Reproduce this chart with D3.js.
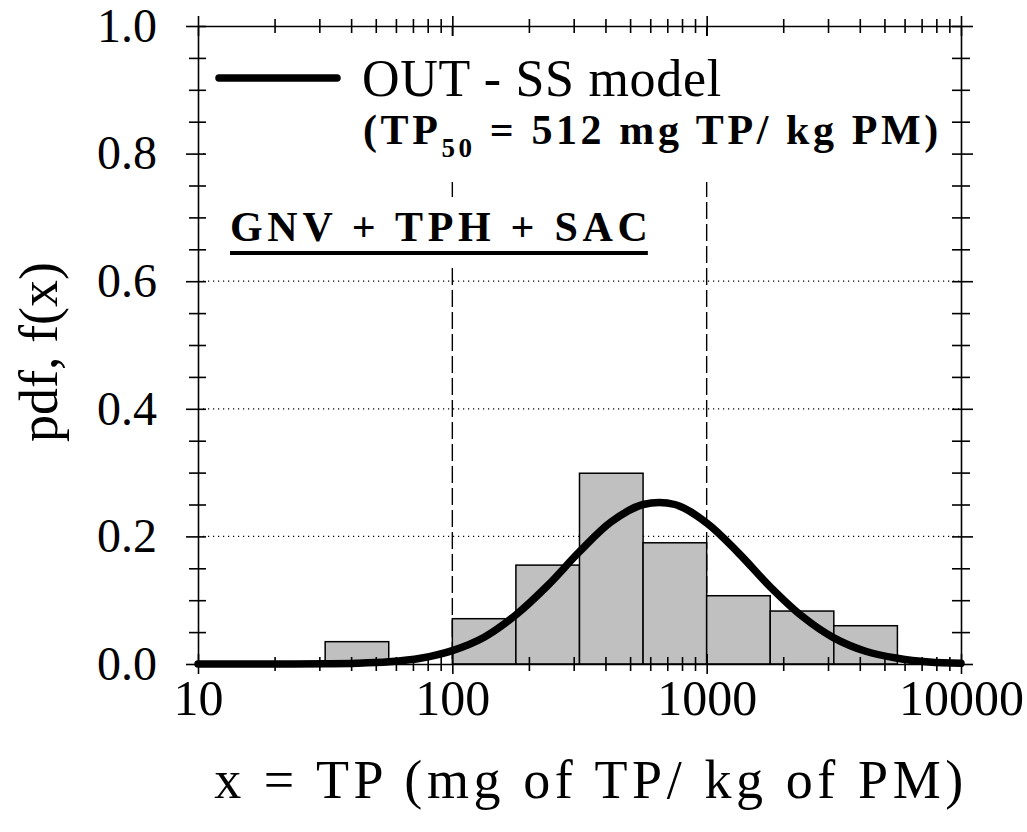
<!DOCTYPE html>
<html>
<head>
<meta charset="utf-8">
<script src="https://cdn.jsdelivr.net/npm/d3@7"></script>
<style>
body { margin: 0; background: #fff; }
text { font-family: "Liberation Serif", "Times New Roman", serif; fill: #000; }
</style>
</head>
<body>
<svg id="chart"></svg>
<script>
const width = 1027, height = 832;
const margin = {top: 26, right: 66, bottom: 168, left: 198};

// histogram, bins are quarter decades (mg TP / kg PM)
const binLo  = [31.62, 100, 177.8, 316.2, 562.3, 1000, 1778, 3162];
const binHi  = [56.23, 177.8, 316.2, 562.3, 1000, 1778, 3162, 5623];
const binPdf = [0.035, 0.071, 0.155, 0.299, 0.190, 0.107, 0.083, 0.060];

// OUT - SS model curve
const curveX = [10, 13.34, 17.78, 23.71, 31.62, 42.17, 56.23, 74.99, 100, 133.4, 177.8, 237.1,
                316.2, 421.7, 562.3, 749.9, 1000, 1334, 1778, 2371, 3162, 4217, 5623, 7499, 10000];
const curveY = [0, 0, 0, 0.0001, 0.0004, 0.0012, 0.0035, 0.009, 0.021, 0.042, 0.077, 0.123,
                0.176, 0.223, 0.250, 0.250, 0.221, 0.174, 0.121, 0.075, 0.041, 0.020, 0.009, 0.003, 0.001];

const xMajor = [10, 100, 1000, 10000];
const yMajor = [0, 0.2, 0.4, 0.6, 0.8, 1.0];
const yGrid = [0.2, 0.4, 0.6, 0.8];
const xGrid = [100, 1000];

const x = d3.scaleLog()
  .domain([10, 10000])
  .range([margin.left, width - margin.right]);
const y = d3.scaleLinear()
  .domain([0, 1])
  .range([height - margin.bottom, margin.top]);

const svg = d3.select("#chart")
  .attr("width", width)
  .attr("height", height)
  .attr("viewBox", [0, 0, width, height]);

svg.append("rect").attr("width", width).attr("height", height).attr("fill", "white");

// grid
svg.append("g")
  .selectAll("line")
  .data(yGrid)
  .join("line")
  .attr("x1", x(10)).attr("x2", x(10000))
  .attr("y1", d => y(d)).attr("y2", d => y(d))
  .attr("stroke", "#000").attr("stroke-width", 1.2)
  .attr("stroke-dasharray", "1.2,3.8");

svg.append("g")
  .selectAll("line")
  .data(xGrid)
  .join("line")
  .attr("x1", d => x(d)).attr("x2", d => x(d))
  .attr("y1", y(1)).attr("y2", y(0))
  .attr("stroke", "#000").attr("stroke-width", 1.4)
  .attr("stroke-dasharray", "17,5");

// legend box and label box hide the grid behind them
svg.append("rect")
  .attr("x", 207).attr("y", 36)
  .attr("width", x(10000) - 207).attr("height", 146)
  .attr("fill", "white");
svg.append("rect")
  .attr("x", 226).attr("y", 198)
  .attr("width", 428).attr("height", 70)
  .attr("fill", "white");

// bars
svg.append("g")
  .selectAll("rect")
  .data(binPdf)
  .join("rect")
  .attr("x", (d, i) => x(binLo[i]))
  .attr("width", (d, i) => x(binHi[i]) - x(binLo[i]))
  .attr("y", d => y(d))
  .attr("height", d => y(0) - y(d))
  .attr("fill", "#c0c0c0")
  .attr("stroke", "#000")
  .attr("stroke-width", 1.5);

// model curve
const line = d3.line()
  .x((d, i) => x(curveX[i]))
  .y(d => y(d))
  .curve(d3.curveCatmullRom.alpha(0.5));

svg.append("path")
  .datum(curveY)
  .attr("d", line)
  .attr("fill", "none")
  .attr("stroke", "#000")
  .attr("stroke-width", 7.5)
  .attr("stroke-linecap", "round")
  .attr("stroke-linejoin", "round");

// axes, ticks cross the frame lines
const isMajorX = d => xMajor.includes(d);
const isMajorY = d => yMajor.some(v => Math.abs(v - d) < 1e-9);
const xTickVals = x.ticks();
const yTickVals = d3.range(0, 1.0001, 0.05);

function styleAxis(g) {
  g.select(".domain").attr("stroke-width", 1.6);
  g.selectAll(".tick line").attr("stroke-width", 1.6);
  g.attr("font-family", null).attr("font-size", null);
}

svg.append("g")
  .attr("transform", `translate(0,${y(0)})`)
  .call(d3.axisBottom(x).tickValues(xTickVals).tickSizeOuter(0)
    .tickFormat(d => isMajorX(d) ? d : ""))
  .call(styleAxis)
  .call(g => g.selectAll(".tick line")
    .attr("y1", d => isMajorX(d) ? -10 : -7)
    .attr("y2", d => isMajorX(d) ? 10 : 7))
  .call(g => g.selectAll(".tick text")
    .attr("y", 15).attr("font-size", 50));

svg.append("g")
  .attr("transform", `translate(0,${y(1)})`)
  .call(d3.axisTop(x).tickValues(xTickVals).tickSizeOuter(0).tickFormat(""))
  .call(styleAxis)
  .call(g => g.selectAll(".tick line")
    .attr("y1", d => isMajorX(d) ? -10 : -7)
    .attr("y2", d => isMajorX(d) ? 10 : 7));

svg.append("g")
  .attr("transform", `translate(${x(10)},0)`)
  .call(d3.axisLeft(y).tickValues(yTickVals).tickSizeOuter(0)
    .tickFormat(d => isMajorY(d) ? d3.format(".1f")(d) : ""))
  .call(styleAxis)
  .call(g => g.selectAll(".tick line")
    .attr("x1", d => isMajorY(d) ? -12 : -9)
    .attr("x2", 8))
  .call(g => g.selectAll(".tick text")
    .attr("x", -41).attr("font-size", 48));

svg.append("g")
  .attr("transform", `translate(${x(10000)},0)`)
  .call(d3.axisRight(y).tickValues(yTickVals).tickSizeOuter(0).tickFormat(""))
  .call(styleAxis)
  .call(g => g.selectAll(".tick line")
    .attr("x1", -9)
    .attr("x2", d => isMajorY(d) ? 12 : 9));

// axis titles
svg.append("text")
  .attr("transform", "translate(57,352) rotate(-90)")
  .attr("text-anchor", "middle")
  .attr("font-size", 54)
  .text("pdf, f(x)");

svg.append("text")
  .attr("x", 591).attr("y", 798)
  .attr("text-anchor", "middle")
  .attr("font-size", 54)
  .attr("letter-spacing", 4.6)
  .text("x = TP (mg of TP/ kg of PM)");

// legend
svg.append("line")
  .attr("x1", 219).attr("x2", 337)
  .attr("y1", 78).attr("y2", 78)
  .attr("stroke", "#000").attr("stroke-width", 7.5)
  .attr("stroke-linecap", "round");

svg.append("text")
  .attr("x", 362).attr("y", 96)
  .attr("font-size", 52)
  .attr("letter-spacing", 0.7)
  .text("OUT - SS model");

const t2 = svg.append("text")
  .attr("x", 363).attr("y", 144)
  .attr("font-size", 42)
  .attr("font-weight", "bold")
  .attr("letter-spacing", 3.6);
t2.append("tspan").text("(TP");
t2.append("tspan").attr("font-size", 27).attr("dy", 13).text("50");
t2.append("tspan").attr("dy", -13).text(" = 512 mg TP/ kg PM)");

const lab = svg.append("text")
  .attr("x", 230).attr("y", 241)
  .attr("font-size", 42)
  .attr("font-weight", "bold")
  .attr("letter-spacing", 4.7)
  .text("GNV + TPH + SAC");
const labW = lab.node().getComputedTextLength() - 4.7;
svg.append("rect")
  .attr("x", 230).attr("y", 251)
  .attr("width", labW).attr("height", 4)
  .attr("fill", "#000");
</script>
</body>
</html>
